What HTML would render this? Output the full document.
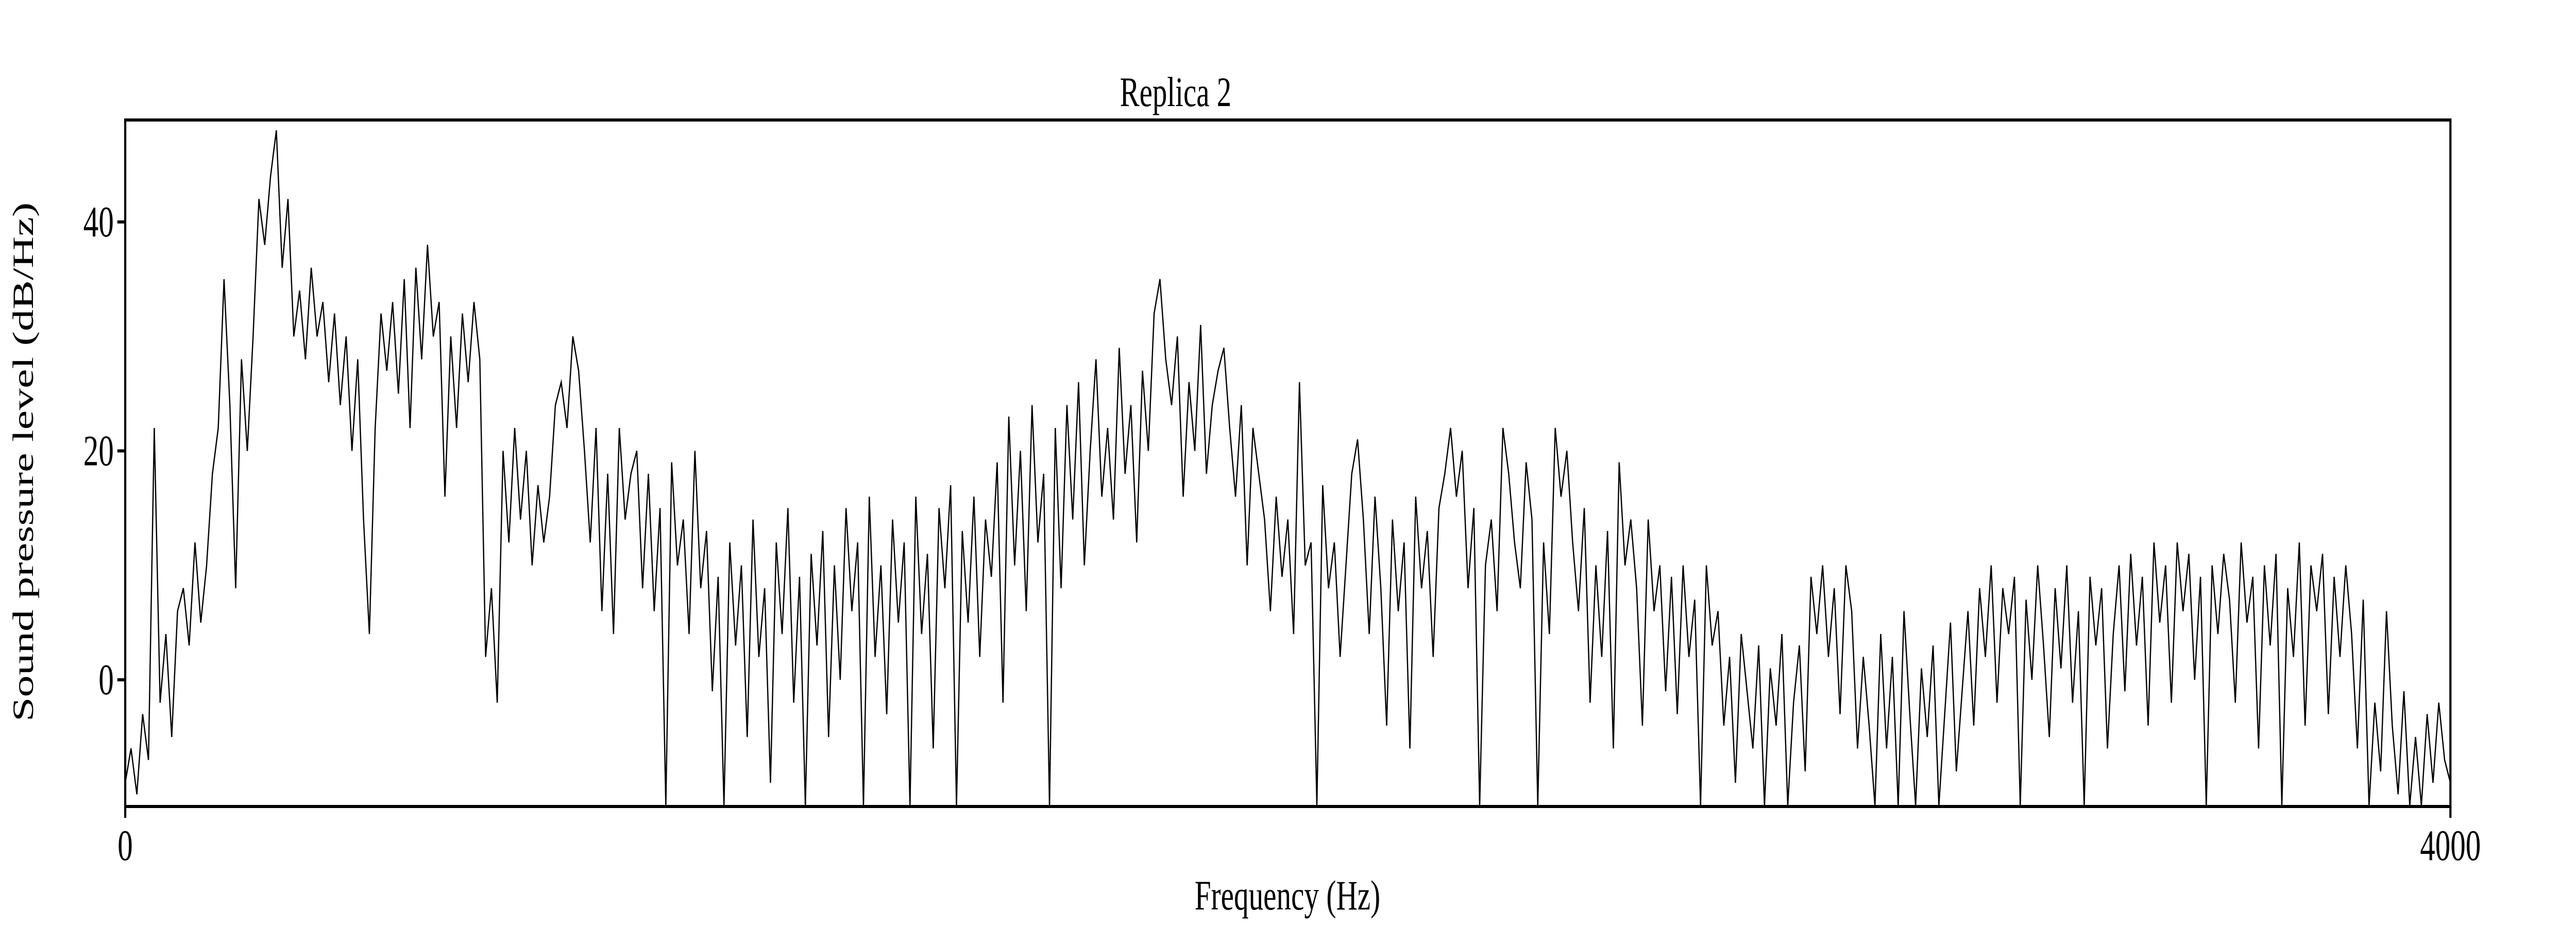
<!DOCTYPE html>
<html>
<head>
<meta charset="utf-8">
<style>
html,body{margin:0;padding:0;background:#fff;width:100%;height:100%;overflow:hidden;}
svg{display:block;width:100vw;height:100vh;}
text{font-family:"Liberation Serif",serif;fill:#000;}
</style>
</head>
<body>
<svg id="chart" viewBox="0 0 7200 1800" preserveAspectRatio="none" xmlns="http://www.w3.org/2000/svg">
  <rect x="0" y="0" width="7200" height="1800" fill="#fff"/>
  <text x="3130" y="206" font-size="82">Replica 2</text>
  <defs>
    <clipPath id="plotclip"><rect x="350" y="233" width="6499" height="1333"/></clipPath>
  </defs>
  <g id="series" clip-path="url(#plotclip)"></g>
  <rect x="350" y="233" width="6499" height="1333" fill="none" stroke="#000" stroke-width="6"/>
  <g id="yticks"></g>
  <g id="xticks"></g>
  <text x="3339" y="1766" font-size="82" textLength="519" lengthAdjust="spacingAndGlyphs">Frequency (Hz)</text>
  <text transform="translate(92,897) rotate(-90)" text-anchor="middle" font-size="82" textLength="1008" lengthAdjust="spacingAndGlyphs">Sound pressure level (dB/Hz)</text>
</svg>
<script>
const freqStep = 10;
const yTickValues = [0, 20, 40];
const yTickLabels = ["0", "20", "40"];
const xTickValues = [0, 4000];
const xTickLabels = ["0", "4000"];
const levels = [
-9,-6,-10,-3,-7,22,-2,4,-5,6,
8,3,12,5,10,18,22,35,24,8,
28,20,30,42,38,44,48,36,42,30,
34,28,36,30,33,26,32,24,30,20,
28,14,4,22,32,27,33,25,35,22,
36,28,38,30,33,16,30,22,32,26,
33,28,2,8,-2,20,12,22,14,20,
10,17,12,16,24,26,22,30,27,20,
12,22,6,18,4,22,14,18,20,8,
18,6,15,-11,19,10,14,4,20,8,
13,-1,9,-11,12,3,10,-5,14,2,
8,-9,12,4,15,-2,9,-11,11,3,
13,-5,10,0,15,6,12,-11,16,2,
10,-3,14,5,12,-11,16,4,11,-6,
15,8,17,-11,13,5,16,2,14,9,
19,-2,23,10,20,6,24,12,18,-11,
22,8,24,14,26,10,20,28,16,22,
14,29,18,24,12,27,20,32,35,28,
24,30,16,26,20,31,18,24,27,29,
22,16,24,10,22,18,14,6,16,9,
14,4,26,10,12,-11,17,8,12,2,
10,18,21,14,4,16,8,-4,14,6,
12,-6,16,8,13,2,15,18,22,16,
20,8,15,-11,10,14,6,22,18,12,
8,19,14,-11,12,4,22,16,20,12,
6,15,-2,10,2,13,-6,19,10,14,
8,-4,14,6,10,-1,9,-3,10,2,
7,-11,10,3,6,-4,2,-9,4,-1,
-6,3,-11,1,-4,4,-11,-2,3,-8,
9,4,10,2,8,-3,10,6,-6,2,
-4,-11,4,-6,2,-11,6,-3,-11,1,
-5,3,-11,-3,5,-8,-1,6,-4,8,
2,10,-2,8,4,9,-11,7,0,10,
3,-5,8,1,10,-2,6,-11,9,3,
8,-6,4,10,-1,11,3,9,-4,12,
5,10,-2,12,6,11,0,9,-11,10,
4,11,7,-2,12,5,9,-6,10,3,
11,-11,8,2,12,-4,10,6,11,-3,
9,2,10,4,-6,7,-11,-2,-8,6,
-4,-10,-1,-11,-5,-11,-3,-9,-2,-7,
-9
];

const NS = "http://www.w3.org/2000/svg";
const X0 = 350, X1 = 6849, Y0 = 1320, DB_PX = 22.225;
function xScale(f) { return X0 + f / 4000 * (X1 - X0); }
function yScale(v) { return Y0 - v * DB_PX; }

const series = document.getElementById("series");
let d = "";
levels.forEach(function (v, i) {
  d += (i ? "L" : "M") + xScale(i * freqStep).toFixed(1) + "," + yScale(v < -11.3 ? -11.3 : v).toFixed(1);
});
const path = document.createElementNS(NS, "path");
path.setAttribute("d", d);
path.setAttribute("fill", "none");
path.setAttribute("stroke", "#000");
path.setAttribute("stroke-width", "3.5");
path.setAttribute("stroke-linejoin", "miter");


series.appendChild(path);

const yg = document.getElementById("yticks");
yTickValues.forEach(function (v, i) {
  const y = yScale(v);
  const t = document.createElementNS(NS, "line");
  t.setAttribute("x1", 328); t.setAttribute("x2", 350);
  t.setAttribute("y1", y); t.setAttribute("y2", y);
  t.setAttribute("stroke", "#000"); t.setAttribute("stroke-width", "6");
  
  
  yg.appendChild(t);
  const l = document.createElementNS(NS, "text");
  l.setAttribute("x", 318); l.setAttribute("y", y + 28);
  l.setAttribute("text-anchor", "end"); l.setAttribute("font-size", "85");
  l.textContent = yTickLabels[i];
  
  
  yg.appendChild(l);
});

const xg = document.getElementById("xticks");
xTickValues.forEach(function (v, i) {
  const x = xScale(v);
  const t = document.createElementNS(NS, "line");
  t.setAttribute("x1", x); t.setAttribute("x2", x);
  t.setAttribute("y1", 1566); t.setAttribute("y2", 1588);
  t.setAttribute("stroke", "#000"); t.setAttribute("stroke-width", "6");
  
  
  xg.appendChild(t);
  const l = document.createElementNS(NS, "text");
  l.setAttribute("x", x); l.setAttribute("y", 1670);
  l.setAttribute("text-anchor", "middle"); l.setAttribute("font-size", "85");
  l.textContent = xTickLabels[i];
  
  
  xg.appendChild(l);
});
</script>
</body>
</html>
